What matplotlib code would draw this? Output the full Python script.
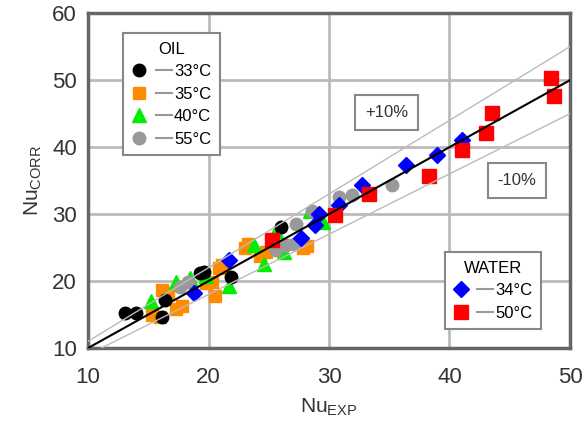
import matplotlib.pyplot as plt
from matplotlib.lines import Line2D
from matplotlib.legend_handler import HandlerTuple

plt.rcParams['font.family'] = ['Liberation Sans', 'DejaVu Sans']

# oil data (Nu_EXP, Nu_CORR)
oil_33_x = [13.1, 14.0, 16.1, 16.4, 19.3, 19.6, 21.9, 26.0]
oil_33_y = [15.2, 15.2, 14.6, 17.2, 21.2, 21.4, 20.6, 28.1]

oil_35_x = [15.3, 16.0, 16.1, 16.6, 17.3, 17.8, 19.8, 20.3, 20.5, 20.9, 21.1,
            23.0, 23.3, 24.3, 24.8, 27.8, 28.2]
oil_35_y = [15.0, 14.7, 18.7, 18.2, 15.8, 16.3, 19.7, 19.8, 17.8, 21.9, 22.4,
            25.0, 25.5, 23.7, 24.4, 25.0, 25.3]

oil_40_x = [15.2, 17.3, 18.5, 19.8, 21.7, 23.8, 24.6, 25.6, 26.3, 28.4, 29.5]
oil_40_y = [17.0, 19.8, 20.5, 20.7, 19.2, 25.4, 22.6, 27.5, 24.4, 30.4, 28.8]

oil_55_x = [17.6, 18.3, 25.6, 26.4, 27.1, 27.3, 28.6, 30.8, 31.9, 35.2]
oil_55_y = [19.1, 19.8, 24.6, 25.4, 25.6, 28.5, 30.5, 32.5, 32.8, 34.3]

# water data
water_34_x = [18.8, 21.7, 27.7, 28.8, 29.2, 30.8, 32.7, 36.4, 39.0, 41.0]
water_34_y = [18.2, 23.1, 26.4, 28.4, 30.0, 31.3, 34.3, 37.3, 38.8, 41.0]

water_50_x = [25.3, 30.5, 33.3, 38.3, 41.0, 43.0, 43.5, 48.4, 48.7]
water_50_y = [26.1, 29.9, 33.0, 35.7, 39.6, 42.1, 45.1, 50.3, 47.6]

oil_labels = ["33°C", "35°C", "40°C", "55°C"]
water_labels = ["34°C", "50°C"]

fig = plt.figure(figsize=(5.87, 4.26), dpi=100)
ax = fig.add_axes([0.150, 0.183, 0.821, 0.786])

ms = 9
p35, = ax.plot(oil_35_x, oil_35_y, 's', color='#ff8c00', ms=ms, ls='none', zorder=3)
p40, = ax.plot(oil_40_x, oil_40_y, '^', color='#00ee00', ms=ms + 1, ls='none', zorder=3)
p33, = ax.plot(oil_33_x, oil_33_y, 'o', color='black', ms=ms, ls='none', zorder=3)
p55, = ax.plot(oil_55_x, oil_55_y, 'o', color='#999999', ms=ms, ls='none', zorder=3)
w34, = ax.plot(water_34_x, water_34_y, 'D', color='#0000ff', ms=ms - 1, ls='none', zorder=3)
w50, = ax.plot(water_50_x, water_50_y, 's', color='#ff0000', ms=ms + 1, ls='none', zorder=3)

xs = [10, 50]
ax.plot(xs, [x for x in xs], color='black', lw=1.5, zorder=4)
ax.plot(xs, [1.1 * x for x in xs], color='#bbbbbb', lw=1, zorder=4)
ax.plot(xs, [0.9 * x for x in xs], color='#bbbbbb', lw=1, zorder=4)

ax.set_xlim(10, 50)
ax.set_ylim(10, 60)
ax.set_xticks([10, 20, 30, 40, 50])
ax.set_yticks([10, 20, 30, 40, 50, 60])
ax.grid(True, color='#bbbbbb', lw=2)
ax.set_axisbelow(True)
ax.tick_params(length=0, labelsize=16, colors='#333333')
ax.tick_params(axis='x', pad=14)
ax.tick_params(axis='y', pad=8)
for s in ax.spines.values():
    s.set_color('#666666')
    s.set_linewidth(2.5)

ax.set_xlabel(r'Nu$_{\mathregular{EXP}}$', fontsize=15, color='#333333', labelpad=6)
ax.set_ylabel(r'Nu$_{\mathregular{CORR}}$', fontsize=15, color='#333333', labelpad=6)

box = dict(boxstyle='square,pad=0.6', fc='white', ec='#888888', lw=1.5)
ax.text(34.8, 45.2, '+10%', fontsize=12, ha='center', va='center', bbox=box, color='#333333')
ax.text(45.6, 35.0, '-10%', fontsize=12, ha='center', va='center', bbox=box, color='#333333')

dash = Line2D([], [], color='#999999', lw=1.5)
hmap = {tuple: HandlerTuple(ndivide=None, pad=0.5)}
legkw = dict(handler_map=hmap, fontsize=12, title_fontsize=12, handlelength=2.4,
             handletextpad=0.15, borderpad=0.5, labelspacing=0.45, borderaxespad=0,
             fancybox=False, framealpha=1, edgecolor='#888888')

leg1 = ax.legend([(p33, dash), (p35, dash), (p40, dash), (p55, dash)], oil_labels,
                 title='OIL', loc='upper left', bbox_to_anchor=(0.073, 0.94), **legkw)
leg1.get_frame().set_linewidth(1.5)
ax.add_artist(leg1)

leg2 = ax.legend([(w34, dash), (w50, dash)], water_labels,
                 title='WATER', loc='lower right', bbox_to_anchor=(0.94, 0.057), **legkw)
leg2.get_frame().set_linewidth(1.5)

fig.savefig('out.png', dpi=100)
